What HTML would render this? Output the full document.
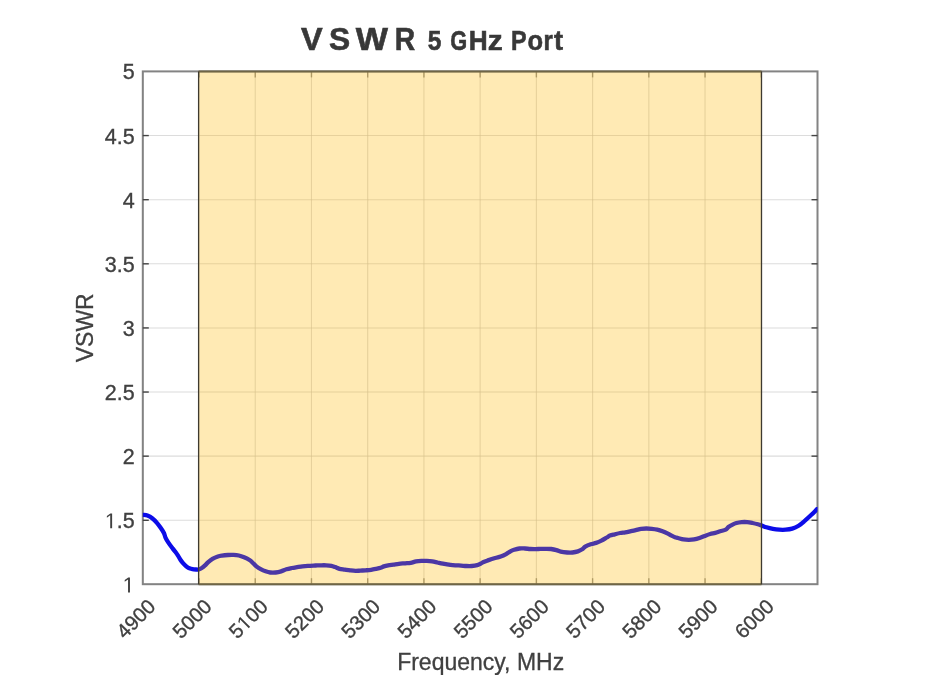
<!DOCTYPE html>
<html><head><meta charset="utf-8"><style>
html,body{margin:0;padding:0;background:#fff;width:933px;height:700px;overflow:hidden}
svg{display:block;filter:blur(0.45px)}
text{font-family:"Liberation Sans",sans-serif;fill:#404040}
.o1{fill:#404040;stroke:#404040;stroke-width:0.35}
.g{stroke:#dcdcdc;stroke-width:1.1}
.g2{stroke:rgba(110,90,40,0.08);stroke-width:1.1}
.c{fill:none;stroke-width:4.3;stroke-linejoin:round;stroke-linecap:round}
.co{stroke:#0c0ce8}
.ci{stroke:rgb(75,55,165)}
.p{fill:rgb(255,220,130);fill-opacity:0.6;stroke:none}
.ax{fill:none;stroke:#838383;stroke-width:2}
.pe2{stroke:#6e6546;stroke-width:2}
.t{stroke:#444;stroke-width:1.4}
.pe{stroke:#3e3a30;stroke-width:1.3}
.tk{font-size:21.5px;stroke:#404040;stroke-width:0.35}
.xt{font-size:20.3px}
.lb{font-size:23px;stroke:#404040;stroke-width:0.3}
.ti{font-weight:bold;fill:#383838;stroke:#383838;stroke-width:0.6}
</style></head><body>
<svg width="933" height="700" viewBox="0 0 933 700">
<defs>
<clipPath id="cin"><rect x="198.60" y="0" width="562.90" height="700"/></clipPath>
<clipPath id="cout"><path d="M142.8,0 H198.60 V700 H142.8 Z M761.50,0 H817.5 V700 H761.50 Z"/></clipPath>
<path id="one" d="M515,0 L515,1237 L197,1010 L197,1180 L530,1409 L696,1409 L696,0 Z"/>
</defs>
<line x1="142.80" y1="71.4" x2="142.80" y2="584.2" class="g"/>
<line x1="199.03" y1="71.4" x2="199.03" y2="584.2" class="g"/>
<line x1="255.25" y1="71.4" x2="255.25" y2="584.2" class="g"/>
<line x1="311.48" y1="71.4" x2="311.48" y2="584.2" class="g"/>
<line x1="367.70" y1="71.4" x2="367.70" y2="584.2" class="g"/>
<line x1="423.93" y1="71.4" x2="423.93" y2="584.2" class="g"/>
<line x1="480.15" y1="71.4" x2="480.15" y2="584.2" class="g"/>
<line x1="536.38" y1="71.4" x2="536.38" y2="584.2" class="g"/>
<line x1="592.60" y1="71.4" x2="592.60" y2="584.2" class="g"/>
<line x1="648.83" y1="71.4" x2="648.83" y2="584.2" class="g"/>
<line x1="705.05" y1="71.4" x2="705.05" y2="584.2" class="g"/>
<line x1="761.28" y1="71.4" x2="761.28" y2="584.2" class="g"/>
<line x1="817.50" y1="71.4" x2="817.50" y2="584.2" class="g"/>
<line x1="142.8" y1="584.40" x2="817.5" y2="584.40" class="g"/>
<line x1="142.8" y1="520.28" x2="817.5" y2="520.28" class="g"/>
<line x1="142.8" y1="456.16" x2="817.5" y2="456.16" class="g"/>
<line x1="142.8" y1="392.04" x2="817.5" y2="392.04" class="g"/>
<line x1="142.8" y1="327.93" x2="817.5" y2="327.93" class="g"/>
<line x1="142.8" y1="263.81" x2="817.5" y2="263.81" class="g"/>
<line x1="142.8" y1="199.69" x2="817.5" y2="199.69" class="g"/>
<line x1="142.8" y1="135.57" x2="817.5" y2="135.57" class="g"/>
<line x1="142.8" y1="71.45" x2="817.5" y2="71.45" class="g"/>
<rect x="142.8" y="71.4" width="674.70" height="512.80" class="ax"/>
<line x1="199.03" y1="584.2" x2="199.03" y2="578.2" class="t"/>
<line x1="199.03" y1="71.4" x2="199.03" y2="77.4" class="t"/>
<line x1="255.25" y1="584.2" x2="255.25" y2="578.2" class="t"/>
<line x1="255.25" y1="71.4" x2="255.25" y2="77.4" class="t"/>
<line x1="311.48" y1="584.2" x2="311.48" y2="578.2" class="t"/>
<line x1="311.48" y1="71.4" x2="311.48" y2="77.4" class="t"/>
<line x1="367.70" y1="584.2" x2="367.70" y2="578.2" class="t"/>
<line x1="367.70" y1="71.4" x2="367.70" y2="77.4" class="t"/>
<line x1="423.93" y1="584.2" x2="423.93" y2="578.2" class="t"/>
<line x1="423.93" y1="71.4" x2="423.93" y2="77.4" class="t"/>
<line x1="480.15" y1="584.2" x2="480.15" y2="578.2" class="t"/>
<line x1="480.15" y1="71.4" x2="480.15" y2="77.4" class="t"/>
<line x1="536.38" y1="584.2" x2="536.38" y2="578.2" class="t"/>
<line x1="536.38" y1="71.4" x2="536.38" y2="77.4" class="t"/>
<line x1="592.60" y1="584.2" x2="592.60" y2="578.2" class="t"/>
<line x1="592.60" y1="71.4" x2="592.60" y2="77.4" class="t"/>
<line x1="648.83" y1="584.2" x2="648.83" y2="578.2" class="t"/>
<line x1="648.83" y1="71.4" x2="648.83" y2="77.4" class="t"/>
<line x1="705.05" y1="584.2" x2="705.05" y2="578.2" class="t"/>
<line x1="705.05" y1="71.4" x2="705.05" y2="77.4" class="t"/>
<line x1="761.28" y1="584.2" x2="761.28" y2="578.2" class="t"/>
<line x1="761.28" y1="71.4" x2="761.28" y2="77.4" class="t"/>
<line x1="142.8" y1="520.28" x2="148.8" y2="520.28" class="t"/>
<line x1="817.5" y1="520.28" x2="811.5" y2="520.28" class="t"/>
<line x1="142.8" y1="456.16" x2="148.8" y2="456.16" class="t"/>
<line x1="817.5" y1="456.16" x2="811.5" y2="456.16" class="t"/>
<line x1="142.8" y1="392.04" x2="148.8" y2="392.04" class="t"/>
<line x1="817.5" y1="392.04" x2="811.5" y2="392.04" class="t"/>
<line x1="142.8" y1="327.93" x2="148.8" y2="327.93" class="t"/>
<line x1="817.5" y1="327.93" x2="811.5" y2="327.93" class="t"/>
<line x1="142.8" y1="263.81" x2="148.8" y2="263.81" class="t"/>
<line x1="817.5" y1="263.81" x2="811.5" y2="263.81" class="t"/>
<line x1="142.8" y1="199.69" x2="148.8" y2="199.69" class="t"/>
<line x1="817.5" y1="199.69" x2="811.5" y2="199.69" class="t"/>
<line x1="142.8" y1="135.57" x2="148.8" y2="135.57" class="t"/>
<line x1="817.5" y1="135.57" x2="811.5" y2="135.57" class="t"/>
<rect x="198.60" y="71.4" width="562.90" height="512.80" class="p"/>
<line x1="198.60" y1="71.4" x2="761.50" y2="71.4" class="pe2"/>
<line x1="198.60" y1="584.2" x2="761.50" y2="584.2" class="pe2"/>
<line x1="255.25" y1="71.4" x2="255.25" y2="584.2" class="g2"/>
<line x1="311.48" y1="71.4" x2="311.48" y2="584.2" class="g2"/>
<line x1="367.70" y1="71.4" x2="367.70" y2="584.2" class="g2"/>
<line x1="423.93" y1="71.4" x2="423.93" y2="584.2" class="g2"/>
<line x1="480.15" y1="71.4" x2="480.15" y2="584.2" class="g2"/>
<line x1="536.38" y1="71.4" x2="536.38" y2="584.2" class="g2"/>
<line x1="592.60" y1="71.4" x2="592.60" y2="584.2" class="g2"/>
<line x1="648.83" y1="71.4" x2="648.83" y2="584.2" class="g2"/>
<line x1="705.05" y1="71.4" x2="705.05" y2="584.2" class="g2"/>
<line x1="198.60" y1="520.28" x2="761.50" y2="520.28" class="g2"/>
<line x1="198.60" y1="456.16" x2="761.50" y2="456.16" class="g2"/>
<line x1="198.60" y1="392.04" x2="761.50" y2="392.04" class="g2"/>
<line x1="198.60" y1="327.93" x2="761.50" y2="327.93" class="g2"/>
<line x1="198.60" y1="263.81" x2="761.50" y2="263.81" class="g2"/>
<line x1="198.60" y1="199.69" x2="761.50" y2="199.69" class="g2"/>
<line x1="198.60" y1="135.57" x2="761.50" y2="135.57" class="g2"/>
<path d="M143.10,514.80 C143.82,514.93 145.88,515.03 147.40,515.60 C148.92,516.17 150.62,517.00 152.20,518.20 C153.78,519.40 155.47,521.17 156.90,522.80 C158.33,524.43 159.63,526.30 160.80,528.00 C161.97,529.70 163.10,531.37 163.90,533.00 C164.70,534.63 164.85,536.20 165.60,537.80 C166.35,539.40 167.20,540.80 168.40,542.60 C169.60,544.40 171.62,547.03 172.80,548.60 C173.98,550.17 174.63,550.83 175.50,552.00 C176.37,553.17 177.15,554.27 178.00,555.60 C178.85,556.93 179.77,558.73 180.60,560.00 C181.43,561.27 182.15,562.22 183.00,563.20 C183.85,564.18 184.80,565.13 185.70,565.90 C186.60,566.67 187.50,567.32 188.40,567.80 C189.30,568.28 190.20,568.53 191.10,568.80 C192.00,569.07 192.92,569.28 193.80,569.40 C194.68,569.52 195.60,569.50 196.40,569.50 C197.20,569.50 197.70,569.65 198.60,569.40 C199.50,569.15 200.73,568.67 201.80,568.00 C202.87,567.33 203.93,566.38 205.00,565.40 C206.07,564.42 206.95,563.18 208.20,562.10 C209.45,561.02 210.88,559.83 212.50,558.90 C214.12,557.97 216.32,557.05 217.90,556.50 C219.48,555.95 220.32,555.85 222.00,555.60 C223.68,555.35 226.10,555.12 228.00,555.00 C229.90,554.88 231.60,554.82 233.40,554.90 C235.20,554.98 237.02,555.10 238.80,555.50 C240.58,555.90 242.32,556.55 244.10,557.30 C245.88,558.05 247.98,559.02 249.50,560.00 C251.02,560.98 252.05,562.13 253.20,563.20 C254.35,564.27 255.15,565.42 256.40,566.40 C257.65,567.38 259.17,568.28 260.70,569.10 C262.23,569.92 264.02,570.73 265.60,571.30 C267.18,571.87 268.52,572.30 270.20,572.50 C271.88,572.70 273.88,572.68 275.70,572.50 C277.52,572.32 279.32,571.93 281.10,571.40 C282.88,570.87 284.62,569.87 286.40,569.30 C288.18,568.73 290.00,568.37 291.80,568.00 C293.60,567.63 295.42,567.38 297.20,567.10 C298.98,566.82 300.72,566.52 302.50,566.30 C304.28,566.08 305.75,565.93 307.90,565.80 C310.05,565.67 313.27,565.58 315.40,565.50 C317.53,565.42 318.92,565.33 320.70,565.30 C322.48,565.27 324.32,565.22 326.10,565.30 C327.88,565.38 329.88,565.50 331.40,565.80 C332.92,566.10 333.85,566.60 335.20,567.10 C336.55,567.60 337.90,568.38 339.50,568.80 C341.10,569.22 343.02,569.33 344.80,569.60 C346.58,569.87 348.40,570.18 350.20,570.40 C352.00,570.62 353.90,570.87 355.60,570.90 C357.30,570.93 358.72,570.70 360.40,570.60 C362.08,570.50 363.92,570.43 365.70,570.30 C367.48,570.17 369.32,570.05 371.10,569.80 C372.88,569.55 374.80,569.13 376.40,568.80 C378.00,568.47 379.45,568.20 380.70,567.80 C381.95,567.40 382.65,566.80 383.90,566.40 C385.15,566.00 386.58,565.70 388.20,565.40 C389.82,565.10 391.82,564.87 393.60,564.60 C395.38,564.33 396.97,564.02 398.90,563.80 C400.83,563.58 403.23,563.47 405.20,563.30 C407.17,563.13 408.88,563.12 410.70,562.80 C412.52,562.48 414.32,561.72 416.10,561.40 C417.88,561.08 419.62,560.98 421.40,560.90 C423.18,560.82 425.00,560.82 426.80,560.90 C428.60,560.98 430.42,561.13 432.20,561.40 C433.98,561.67 435.72,562.13 437.50,562.50 C439.28,562.87 440.75,563.22 442.90,563.60 C445.05,563.98 448.27,564.52 450.40,564.80 C452.53,565.08 453.92,565.17 455.70,565.30 C457.48,565.43 459.32,565.48 461.10,565.60 C462.88,565.72 464.62,565.93 466.40,566.00 C468.18,566.07 470.00,566.13 471.80,566.00 C473.60,565.87 475.77,565.57 477.20,565.20 C478.63,564.83 479.33,564.33 480.40,563.80 C481.47,563.27 482.35,562.57 483.60,562.00 C484.85,561.43 485.97,561.07 487.90,560.40 C489.83,559.73 493.07,558.65 495.20,558.00 C497.33,557.35 498.88,557.15 500.70,556.50 C502.52,555.85 504.48,554.95 506.10,554.10 C507.72,553.25 509.07,552.12 510.40,551.40 C511.73,550.68 512.58,550.28 514.10,549.80 C515.62,549.32 517.72,548.72 519.50,548.50 C521.28,548.28 523.02,548.42 524.80,548.50 C526.58,548.58 528.45,548.90 530.20,549.00 C531.95,549.10 533.60,549.12 535.30,549.10 C537.00,549.08 538.67,548.95 540.40,548.90 C542.13,548.85 543.92,548.78 545.70,548.80 C547.48,548.82 549.32,548.78 551.10,549.00 C552.88,549.22 554.80,549.65 556.40,550.10 C558.00,550.55 558.90,551.30 560.70,551.70 C562.50,552.10 565.23,552.37 567.20,552.50 C569.17,552.63 570.72,552.68 572.50,552.50 C574.28,552.32 576.28,551.93 577.90,551.40 C579.52,550.87 580.98,550.10 582.20,549.30 C583.42,548.50 583.78,547.45 585.20,546.60 C586.62,545.75 588.88,544.82 590.70,544.20 C592.52,543.58 594.32,543.48 596.10,542.90 C597.88,542.32 599.62,541.60 601.40,540.70 C603.18,539.80 605.37,538.35 606.80,537.50 C608.23,536.65 608.67,536.13 610.00,535.60 C611.33,535.07 613.10,534.73 614.80,534.30 C616.50,533.87 618.45,533.33 620.20,533.00 C621.95,532.67 623.63,532.58 625.30,532.30 C626.97,532.02 628.47,531.67 630.20,531.30 C631.93,530.93 633.88,530.52 635.70,530.10 C637.52,529.68 639.32,529.07 641.10,528.80 C642.88,528.53 644.62,528.50 646.40,528.50 C648.18,528.50 650.00,528.62 651.80,528.80 C653.60,528.98 655.42,529.20 657.20,529.60 C658.98,530.00 660.72,530.53 662.50,531.20 C664.28,531.87 666.38,532.85 667.90,533.60 C669.42,534.35 670.42,535.08 671.60,535.70 C672.78,536.32 673.93,536.92 675.00,537.30 C676.07,537.68 676.60,537.65 678.00,538.00 C679.40,538.35 681.60,539.10 683.40,539.40 C685.20,539.70 687.02,539.80 688.80,539.80 C690.58,539.80 692.32,539.70 694.10,539.40 C695.88,539.10 697.72,538.58 699.50,538.00 C701.28,537.42 703.02,536.57 704.80,535.90 C706.58,535.23 708.45,534.50 710.20,534.00 C711.95,533.50 713.63,533.35 715.30,532.90 C716.97,532.45 718.47,531.83 720.20,531.30 C721.93,530.77 724.33,530.42 725.70,529.70 C727.07,528.98 727.33,527.82 728.40,527.00 C729.47,526.18 730.77,525.47 732.10,524.80 C733.43,524.13 734.78,523.45 736.40,523.00 C738.02,522.55 740.00,522.25 741.80,522.10 C743.60,521.95 745.42,521.95 747.20,522.10 C748.98,522.25 750.72,522.63 752.50,523.00 C754.28,523.37 756.38,523.88 757.90,524.30 C759.42,524.72 760.18,525.00 761.60,525.50 C763.02,526.00 764.52,526.73 766.40,527.30 C768.28,527.87 770.75,528.50 772.90,528.90 C775.05,529.30 777.17,529.57 779.30,529.70 C781.43,529.83 783.55,529.88 785.70,529.70 C787.85,529.52 790.05,529.27 792.20,528.60 C794.35,527.93 796.47,527.03 798.60,525.70 C800.73,524.37 802.87,522.42 805.00,520.60 C807.13,518.78 809.47,516.63 811.40,514.80 C813.33,512.97 815.62,510.57 816.60,509.60 C817.58,508.63 817.18,509.10 817.30,509.00" class="c co" clip-path="url(#cout)"/>
<path d="M143.10,514.80 C143.82,514.93 145.88,515.03 147.40,515.60 C148.92,516.17 150.62,517.00 152.20,518.20 C153.78,519.40 155.47,521.17 156.90,522.80 C158.33,524.43 159.63,526.30 160.80,528.00 C161.97,529.70 163.10,531.37 163.90,533.00 C164.70,534.63 164.85,536.20 165.60,537.80 C166.35,539.40 167.20,540.80 168.40,542.60 C169.60,544.40 171.62,547.03 172.80,548.60 C173.98,550.17 174.63,550.83 175.50,552.00 C176.37,553.17 177.15,554.27 178.00,555.60 C178.85,556.93 179.77,558.73 180.60,560.00 C181.43,561.27 182.15,562.22 183.00,563.20 C183.85,564.18 184.80,565.13 185.70,565.90 C186.60,566.67 187.50,567.32 188.40,567.80 C189.30,568.28 190.20,568.53 191.10,568.80 C192.00,569.07 192.92,569.28 193.80,569.40 C194.68,569.52 195.60,569.50 196.40,569.50 C197.20,569.50 197.70,569.65 198.60,569.40 C199.50,569.15 200.73,568.67 201.80,568.00 C202.87,567.33 203.93,566.38 205.00,565.40 C206.07,564.42 206.95,563.18 208.20,562.10 C209.45,561.02 210.88,559.83 212.50,558.90 C214.12,557.97 216.32,557.05 217.90,556.50 C219.48,555.95 220.32,555.85 222.00,555.60 C223.68,555.35 226.10,555.12 228.00,555.00 C229.90,554.88 231.60,554.82 233.40,554.90 C235.20,554.98 237.02,555.10 238.80,555.50 C240.58,555.90 242.32,556.55 244.10,557.30 C245.88,558.05 247.98,559.02 249.50,560.00 C251.02,560.98 252.05,562.13 253.20,563.20 C254.35,564.27 255.15,565.42 256.40,566.40 C257.65,567.38 259.17,568.28 260.70,569.10 C262.23,569.92 264.02,570.73 265.60,571.30 C267.18,571.87 268.52,572.30 270.20,572.50 C271.88,572.70 273.88,572.68 275.70,572.50 C277.52,572.32 279.32,571.93 281.10,571.40 C282.88,570.87 284.62,569.87 286.40,569.30 C288.18,568.73 290.00,568.37 291.80,568.00 C293.60,567.63 295.42,567.38 297.20,567.10 C298.98,566.82 300.72,566.52 302.50,566.30 C304.28,566.08 305.75,565.93 307.90,565.80 C310.05,565.67 313.27,565.58 315.40,565.50 C317.53,565.42 318.92,565.33 320.70,565.30 C322.48,565.27 324.32,565.22 326.10,565.30 C327.88,565.38 329.88,565.50 331.40,565.80 C332.92,566.10 333.85,566.60 335.20,567.10 C336.55,567.60 337.90,568.38 339.50,568.80 C341.10,569.22 343.02,569.33 344.80,569.60 C346.58,569.87 348.40,570.18 350.20,570.40 C352.00,570.62 353.90,570.87 355.60,570.90 C357.30,570.93 358.72,570.70 360.40,570.60 C362.08,570.50 363.92,570.43 365.70,570.30 C367.48,570.17 369.32,570.05 371.10,569.80 C372.88,569.55 374.80,569.13 376.40,568.80 C378.00,568.47 379.45,568.20 380.70,567.80 C381.95,567.40 382.65,566.80 383.90,566.40 C385.15,566.00 386.58,565.70 388.20,565.40 C389.82,565.10 391.82,564.87 393.60,564.60 C395.38,564.33 396.97,564.02 398.90,563.80 C400.83,563.58 403.23,563.47 405.20,563.30 C407.17,563.13 408.88,563.12 410.70,562.80 C412.52,562.48 414.32,561.72 416.10,561.40 C417.88,561.08 419.62,560.98 421.40,560.90 C423.18,560.82 425.00,560.82 426.80,560.90 C428.60,560.98 430.42,561.13 432.20,561.40 C433.98,561.67 435.72,562.13 437.50,562.50 C439.28,562.87 440.75,563.22 442.90,563.60 C445.05,563.98 448.27,564.52 450.40,564.80 C452.53,565.08 453.92,565.17 455.70,565.30 C457.48,565.43 459.32,565.48 461.10,565.60 C462.88,565.72 464.62,565.93 466.40,566.00 C468.18,566.07 470.00,566.13 471.80,566.00 C473.60,565.87 475.77,565.57 477.20,565.20 C478.63,564.83 479.33,564.33 480.40,563.80 C481.47,563.27 482.35,562.57 483.60,562.00 C484.85,561.43 485.97,561.07 487.90,560.40 C489.83,559.73 493.07,558.65 495.20,558.00 C497.33,557.35 498.88,557.15 500.70,556.50 C502.52,555.85 504.48,554.95 506.10,554.10 C507.72,553.25 509.07,552.12 510.40,551.40 C511.73,550.68 512.58,550.28 514.10,549.80 C515.62,549.32 517.72,548.72 519.50,548.50 C521.28,548.28 523.02,548.42 524.80,548.50 C526.58,548.58 528.45,548.90 530.20,549.00 C531.95,549.10 533.60,549.12 535.30,549.10 C537.00,549.08 538.67,548.95 540.40,548.90 C542.13,548.85 543.92,548.78 545.70,548.80 C547.48,548.82 549.32,548.78 551.10,549.00 C552.88,549.22 554.80,549.65 556.40,550.10 C558.00,550.55 558.90,551.30 560.70,551.70 C562.50,552.10 565.23,552.37 567.20,552.50 C569.17,552.63 570.72,552.68 572.50,552.50 C574.28,552.32 576.28,551.93 577.90,551.40 C579.52,550.87 580.98,550.10 582.20,549.30 C583.42,548.50 583.78,547.45 585.20,546.60 C586.62,545.75 588.88,544.82 590.70,544.20 C592.52,543.58 594.32,543.48 596.10,542.90 C597.88,542.32 599.62,541.60 601.40,540.70 C603.18,539.80 605.37,538.35 606.80,537.50 C608.23,536.65 608.67,536.13 610.00,535.60 C611.33,535.07 613.10,534.73 614.80,534.30 C616.50,533.87 618.45,533.33 620.20,533.00 C621.95,532.67 623.63,532.58 625.30,532.30 C626.97,532.02 628.47,531.67 630.20,531.30 C631.93,530.93 633.88,530.52 635.70,530.10 C637.52,529.68 639.32,529.07 641.10,528.80 C642.88,528.53 644.62,528.50 646.40,528.50 C648.18,528.50 650.00,528.62 651.80,528.80 C653.60,528.98 655.42,529.20 657.20,529.60 C658.98,530.00 660.72,530.53 662.50,531.20 C664.28,531.87 666.38,532.85 667.90,533.60 C669.42,534.35 670.42,535.08 671.60,535.70 C672.78,536.32 673.93,536.92 675.00,537.30 C676.07,537.68 676.60,537.65 678.00,538.00 C679.40,538.35 681.60,539.10 683.40,539.40 C685.20,539.70 687.02,539.80 688.80,539.80 C690.58,539.80 692.32,539.70 694.10,539.40 C695.88,539.10 697.72,538.58 699.50,538.00 C701.28,537.42 703.02,536.57 704.80,535.90 C706.58,535.23 708.45,534.50 710.20,534.00 C711.95,533.50 713.63,533.35 715.30,532.90 C716.97,532.45 718.47,531.83 720.20,531.30 C721.93,530.77 724.33,530.42 725.70,529.70 C727.07,528.98 727.33,527.82 728.40,527.00 C729.47,526.18 730.77,525.47 732.10,524.80 C733.43,524.13 734.78,523.45 736.40,523.00 C738.02,522.55 740.00,522.25 741.80,522.10 C743.60,521.95 745.42,521.95 747.20,522.10 C748.98,522.25 750.72,522.63 752.50,523.00 C754.28,523.37 756.38,523.88 757.90,524.30 C759.42,524.72 760.18,525.00 761.60,525.50 C763.02,526.00 764.52,526.73 766.40,527.30 C768.28,527.87 770.75,528.50 772.90,528.90 C775.05,529.30 777.17,529.57 779.30,529.70 C781.43,529.83 783.55,529.88 785.70,529.70 C787.85,529.52 790.05,529.27 792.20,528.60 C794.35,527.93 796.47,527.03 798.60,525.70 C800.73,524.37 802.87,522.42 805.00,520.60 C807.13,518.78 809.47,516.63 811.40,514.80 C813.33,512.97 815.62,510.57 816.60,509.60 C817.58,508.63 817.18,509.10 817.30,509.00" class="c ci" clip-path="url(#cin)"/>
<line x1="198.60" y1="71.4" x2="198.60" y2="584.2" class="pe"/>
<line x1="761.50" y1="71.4" x2="761.50" y2="584.2" class="pe"/>
<text x="134.7" y="592.40" text-anchor="end" class="tk"><tspan style="fill:none;stroke:none">1</tspan></text>
<use href="#one" transform="translate(122.64 592.40) scale(0.01050 -0.01050)" class="o1"/>
<text x="134.7" y="528.28" text-anchor="end" class="tk"><tspan style="fill:none;stroke:none">1</tspan>.5</text>
<use href="#one" transform="translate(104.81 528.28) scale(0.01050 -0.01050)" class="o1"/>
<text x="134.7" y="464.16" text-anchor="end" class="tk">2</text>
<text x="134.7" y="400.04" text-anchor="end" class="tk">2.5</text>
<text x="134.7" y="335.92" text-anchor="end" class="tk">3</text>
<text x="134.7" y="271.80" text-anchor="end" class="tk">3.5</text>
<text x="134.7" y="207.68" text-anchor="end" class="tk">4</text>
<text x="134.7" y="143.56" text-anchor="end" class="tk">4.5</text>
<text x="134.7" y="79.45" text-anchor="end" class="tk">5</text>
<text x="156.70" y="607.80" text-anchor="end" transform="rotate(-45 156.70 607.80)" class="tk xt">4900</text>
<text x="212.93" y="607.80" text-anchor="end" transform="rotate(-45 212.93 607.80)" class="tk xt">5000</text>
<g transform="rotate(-45 269.15 607.80)"><text x="269.15" y="607.80" text-anchor="end" class="tk xt">5<tspan style="fill:none;stroke:none">1</tspan>00</text><use href="#one" transform="translate(235.28 607.80) scale(0.00991 -0.00991)" class="o1"/></g>
<text x="325.38" y="607.80" text-anchor="end" transform="rotate(-45 325.38 607.80)" class="tk xt">5200</text>
<text x="381.60" y="607.80" text-anchor="end" transform="rotate(-45 381.60 607.80)" class="tk xt">5300</text>
<text x="437.83" y="607.80" text-anchor="end" transform="rotate(-45 437.83 607.80)" class="tk xt">5400</text>
<text x="494.05" y="607.80" text-anchor="end" transform="rotate(-45 494.05 607.80)" class="tk xt">5500</text>
<text x="550.27" y="607.80" text-anchor="end" transform="rotate(-45 550.27 607.80)" class="tk xt">5600</text>
<text x="606.50" y="607.80" text-anchor="end" transform="rotate(-45 606.50 607.80)" class="tk xt">5700</text>
<text x="662.73" y="607.80" text-anchor="end" transform="rotate(-45 662.73 607.80)" class="tk xt">5800</text>
<text x="718.95" y="607.80" text-anchor="end" transform="rotate(-45 718.95 607.80)" class="tk xt">5900</text>
<text x="775.18" y="607.80" text-anchor="end" transform="rotate(-45 775.18 607.80)" class="tk xt">6000</text>
<text x="480.65" y="669.6" text-anchor="middle" class="lb">Frequency, MHz</text>
<text x="93" y="327.80" text-anchor="middle" transform="rotate(-90 93 327.80)" class="lb">VSWR</text>
<text transform="translate(301.08 49.5) scale(1.054 1)" class="ti" style="font-size:30.8px">V</text>
<text transform="translate(328.99 49.5) scale(1.030 1)" class="ti" style="font-size:30.8px">S</text>
<text transform="translate(355.77 49.5) scale(1.107 1)" class="ti" style="font-size:30.8px">W</text>
<text transform="translate(394.71 49.5) scale(0.916 1)" class="ti" style="font-size:30.8px">R</text>
<text transform="translate(427.65 49.8) scale(0.869 1)" class="ti" style="font-size:28.2px">5</text>
<text transform="translate(450.31 49.8) scale(0.772 1)" class="ti" style="font-size:28.2px">G</text>
<text transform="translate(468.85 49.8) scale(0.929 1)" class="ti" style="font-size:28.2px">H</text>
<text transform="translate(487.80 49.8) scale(1.063 1)" class="ti" style="font-size:28.2px">z</text>
<text transform="translate(510.94 49.8) scale(0.827 1)" class="ti" style="font-size:28.2px">P</text>
<text transform="translate(527.50 49.8) scale(0.905 1)" class="ti" style="font-size:28.2px">o</text>
<text transform="translate(543.62 49.8) scale(0.852 1)" class="ti" style="font-size:28.2px">r</text>
<text transform="translate(553.97 49.8) scale(0.965 1)" class="ti" style="font-size:28.2px">t</text>
</svg>
</body></html>
